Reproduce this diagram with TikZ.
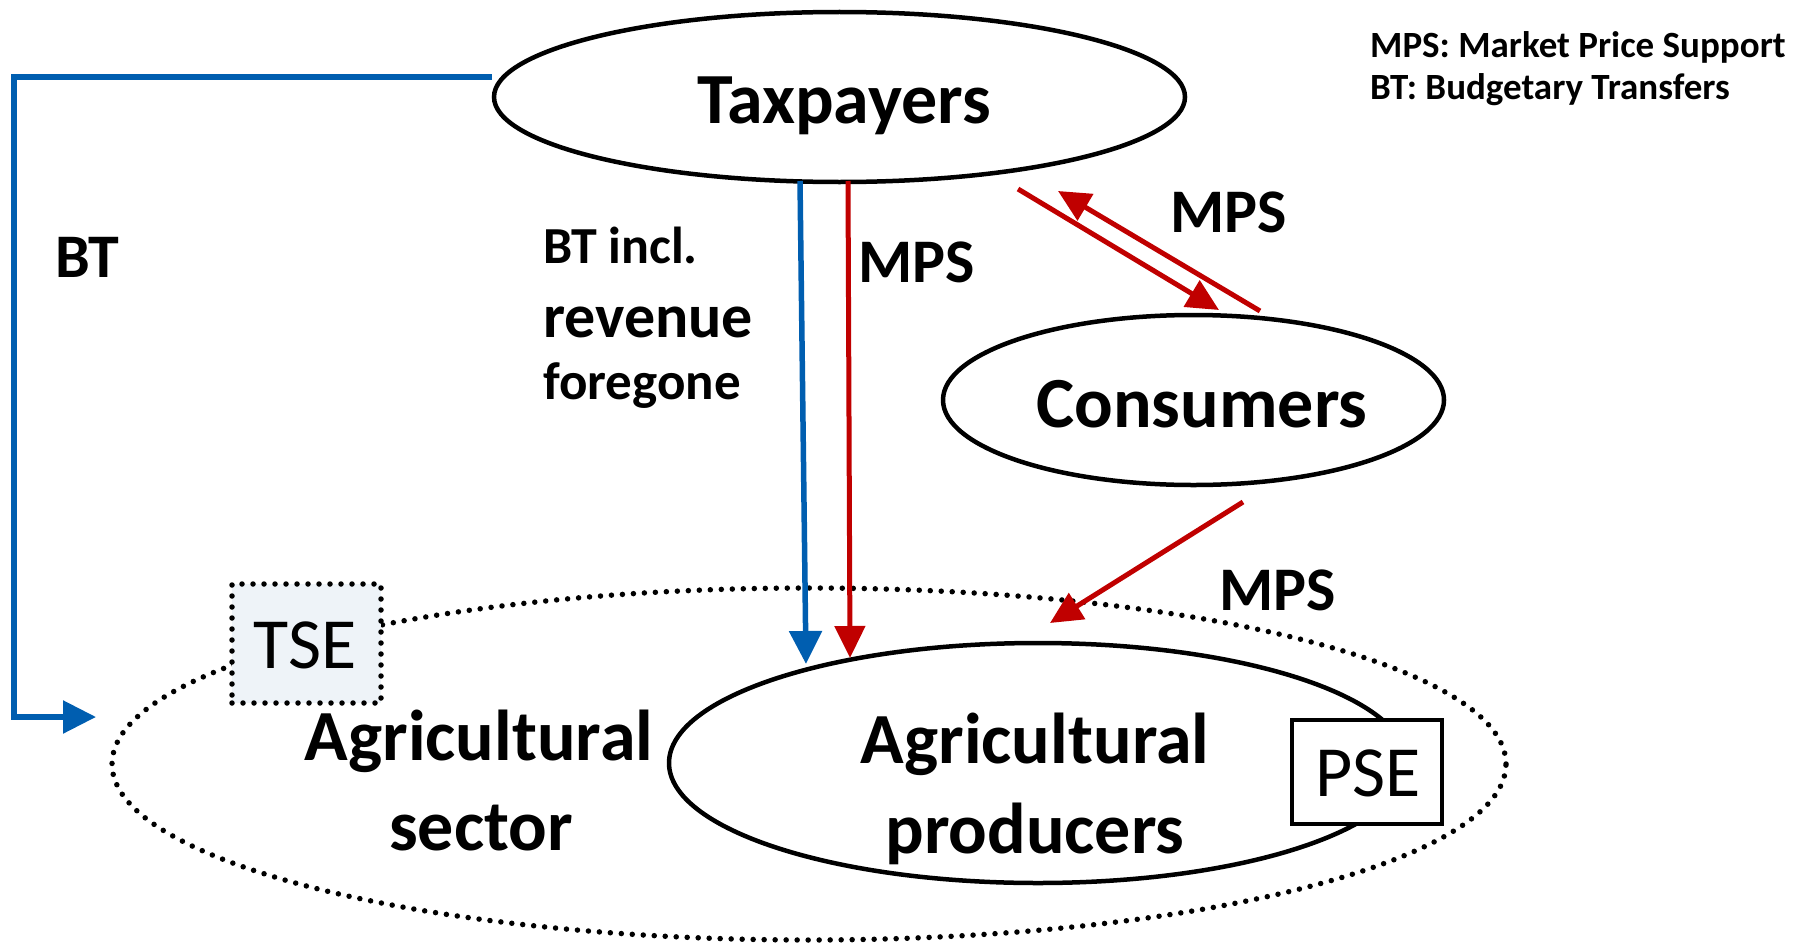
\documentclass[tikz,border=0pt]{standalone}
\usepackage{fontspec}
\setmainfont{Carlito}
\usetikzlibrary{arrows.meta,shapes.geometric}
\definecolor{btblue}{RGB}{0,94,176}
\definecolor{mpsred}{RGB}{192,0,0}
\definecolor{tsefill}{RGB}{238,243,248}
\begin{document}
\begin{tikzpicture}[x=1pt,y=-1pt,
  actor/.style={ellipse, draw, line width=4.5pt, inner sep=0pt},
  dotline/.style={line width=5.5pt, dash pattern=on 0pt off 11pt, line cap=round},
  bigtxt/.style={font=\bfseries\fontsize{72}{86}\selectfont, inner sep=0pt, anchor=base},
  lbl/.style={font=\bfseries\fontsize{62}{74}\selectfont, inner sep=0pt, anchor=base west},
  boxtxt/.style={font=\fontsize{72}{86}\selectfont, inner sep=0pt},
  legend/.style={font=\bfseries\fontsize{37}{44}\selectfont, inner sep=0pt, anchor=base west},
  btflow/.style={draw=btblue, line width=5.5pt, -{Triangle[length=33pt,width=32pt]}},
  mpsflow/.style={draw=mpsred, line width=5pt, -{Triangle[length=32pt,width=30pt]}},
]
\useasboundingbox (0,0) rectangle (1795,942);

% Agricultural sector (dotted)
\node[ellipse, dotline, draw, inner sep=0pt, minimum width=1394pt, minimum height=352pt] (sector) at (809,764) {};
\node[rectangle, dotline, draw, fill=tsefill, minimum width=149pt, minimum height=119pt, inner sep=0pt] (tse) at (306.5,643.5) {};
\node[boxtxt] (tseT) at (305,645) {TSE};
\node[bigtxt] (sec1) at (479,760) {Agricultural};
\node[bigtxt] (sec2) at (481,850) {sector};

% Agricultural producers
\node[actor, minimum width=738pt, minimum height=240pt] (prod) at (1038,763) {};
\node[rectangle, draw, line width=4.5pt, fill=white, minimum width=150pt, minimum height=104pt, inner sep=0pt] (pse) at (1367,772) {};
\node[boxtxt] (pseT) at (1368,773) {PSE};
\node[bigtxt] (prod1) at (1035,763) {Agricultural};
\node[bigtxt] (prod2) at (1035,853) {producers};

% Taxpayers and consumers
\node[actor, minimum width=691pt, minimum height=170pt] (tax) at (839.5,97) {};
\node[bigtxt] (taxT) at (844,123) {Taxpayers};
\node[actor, minimum width=501pt, minimum height=170pt] (cons) at (1193.5,400) {};
\node[bigtxt] (consT) at (1202,427) {Consumers};

% connector end points
\coordinate (btS) at (492,77);
\coordinate (btE) at (96,717);
\coordinate (bvS) at (800,181);
\coordinate (bvE) at (806,664);
\coordinate (rvS) at (848,181);
\coordinate (rvE) at (850,658);
\coordinate (aS) at (1018,189);
\coordinate (aE) at (1219,310);
\coordinate (bS) at (1260,311);
\coordinate (bE) at (1058,191);
\coordinate (cS) at (1243,502);
\coordinate (cE) at (1050,623);

% flows
\draw[btflow] (btS) -- (14,77) |- (btE);
\draw[btflow] (bvS) -- (bvE);
\draw[mpsflow] (rvS) -- (rvE);
\draw[mpsflow] (aS) -- (aE);
\draw[mpsflow] (bS) -- (bE);
\draw[mpsflow] (cS) -- (cE);

% labels
\node[lbl] (btL) at (55,277) {BT};
\node[font=\bfseries\fontsize{52}{60}\selectfont, inner sep=0pt, anchor=base west] (bt1) at (543,263) {BT incl.};
\node[font=\bfseries\fontsize{62}{70}\selectfont, inner sep=0pt, anchor=base west] (bt2) at (543,337) {revenue};
\node[font=\bfseries\fontsize{53}{60}\selectfont, inner sep=0pt, anchor=base west] (bt3) at (543,399) {foregone};
\node[lbl] (mps1) at (858,282) {MPS};
\node[lbl] (mps2) at (1170,232) {MPS};
\node[lbl] (mps3) at (1219,610) {MPS};

% legend
\node[legend] (leg1) at (1370,57) {MPS: Market Price Support};
\node[legend] (leg2) at (1370,99) {BT: Budgetary Transfers};
\end{tikzpicture}
\end{document}
